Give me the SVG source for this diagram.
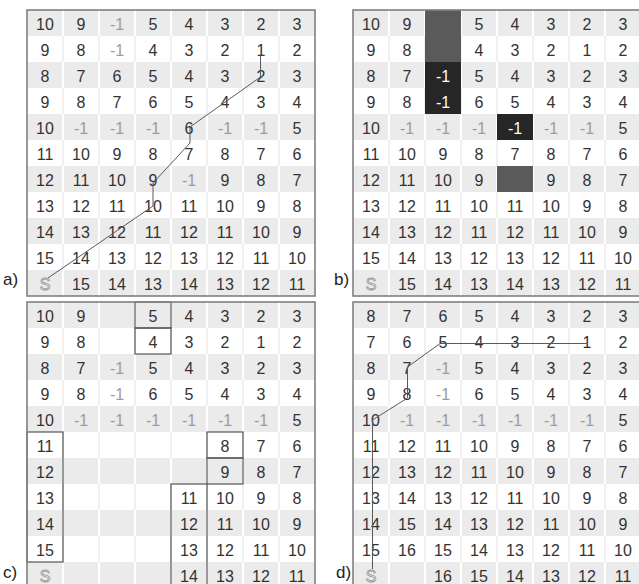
<svg xmlns="http://www.w3.org/2000/svg" xmlns:xlink="http://www.w3.org/1999/xlink" width="639" height="584" viewBox="0 0 639 584">
<style>
text{font-family:"Liberation Sans",Arial,sans-serif;font-size:16px;text-anchor:middle;fill:#333}
.m{fill:#9c9c9c}
.w{fill:#fff}
.s{fill:#fff;stroke:#9c9c9c;stroke-width:0.9}
.lbl{font-size:17px;text-anchor:start;fill:#222}
.box{fill:none;stroke:#555;stroke-width:1.2}
.path{fill:none;stroke:#5a5a5a;stroke-width:1}
.dk{fill:#5a5a5a}
.bk{fill:#262626}
</style>
<defs>
<g id="grid">
<rect x="0" y="0" width="288" height="286" fill="#fff"/>
<g fill="#ebebeb">
<rect x="0" y="0" width="288" height="26"/>
<rect x="0" y="52" width="288" height="26"/>
<rect x="0" y="104" width="288" height="26"/>
<rect x="0" y="156" width="288" height="26"/>
<rect x="0" y="208" width="288" height="26"/>
<rect x="0" y="260" width="288" height="26"/>
</g>
<path d="M36 0V286M72 0V286M108 0V286M144 0V286M180 0V286M216 0V286M252 0V286" stroke="#fff" stroke-width="2" stroke-dasharray="26 26"/>
<path d="M36 0V286M72 0V286M108 0V286M144 0V286M180 0V286M216 0V286M252 0V286" stroke="#e2e2e2" stroke-width="1" stroke-dasharray="26 26" stroke-dashoffset="26"/>
</g>
<rect id="frame" x="0" y="0" width="288" height="286" fill="none" stroke="#808080" stroke-width="1.6"/>
</defs>

<g id="panel-a" transform="translate(27,10)">
<use xlink:href="#grid"/>
<text x="18" y="20">10</text><text x="54" y="20">9</text><text x="90" y="20" class="m">-1</text><text x="126" y="20">5</text><text x="162" y="20">4</text><text x="198" y="20">3</text><text x="234" y="20">2</text><text x="270" y="20">3</text>
<text x="18" y="46">9</text><text x="54" y="46">8</text><text x="90" y="46" class="m">-1</text><text x="126" y="46">4</text><text x="162" y="46">3</text><text x="198" y="46">2</text><text x="234" y="46">1</text><text x="270" y="46">2</text>
<text x="18" y="72">8</text><text x="54" y="72">7</text><text x="90" y="72">6</text><text x="126" y="72">5</text><text x="162" y="72">4</text><text x="198" y="72">3</text><text x="234" y="72">2</text><text x="270" y="72">3</text>
<text x="18" y="98">9</text><text x="54" y="98">8</text><text x="90" y="98">7</text><text x="126" y="98">6</text><text x="162" y="98">5</text><text x="198" y="98">4</text><text x="234" y="98">3</text><text x="270" y="98">4</text>
<text x="18" y="124">10</text><text x="54" y="124" class="m">-1</text><text x="90" y="124" class="m">-1</text><text x="126" y="124" class="m">-1</text><text x="162" y="124">6</text><text x="198" y="124" class="m">-1</text><text x="234" y="124" class="m">-1</text><text x="270" y="124">5</text>
<text x="18" y="150">11</text><text x="54" y="150">10</text><text x="90" y="150">9</text><text x="126" y="150">8</text><text x="162" y="150">7</text><text x="198" y="150">8</text><text x="234" y="150">7</text><text x="270" y="150">6</text>
<text x="18" y="176">12</text><text x="54" y="176">11</text><text x="90" y="176">10</text><text x="126" y="176">9</text><text x="162" y="176" class="m">-1</text><text x="198" y="176">9</text><text x="234" y="176">8</text><text x="270" y="176">7</text>
<text x="18" y="202">13</text><text x="54" y="202">12</text><text x="90" y="202">11</text><text x="126" y="202">10</text><text x="162" y="202">11</text><text x="198" y="202">10</text><text x="234" y="202">9</text><text x="270" y="202">8</text>
<text x="18" y="228">14</text><text x="54" y="228">13</text><text x="90" y="228">12</text><text x="126" y="228">11</text><text x="162" y="228">12</text><text x="198" y="228">11</text><text x="234" y="228">10</text><text x="270" y="228">9</text>
<text x="18" y="254">15</text><text x="54" y="254">14</text><text x="90" y="254">13</text><text x="126" y="254">12</text><text x="162" y="254">13</text><text x="198" y="254">12</text><text x="234" y="254">11</text><text x="270" y="254">10</text>
<text x="18" y="280" class="s">S</text><text x="54" y="280">15</text><text x="90" y="280">14</text><text x="126" y="280">13</text><text x="162" y="280">14</text><text x="198" y="280">13</text><text x="234" y="280">12</text><text x="270" y="280">11</text>
<use xlink:href="#frame"/>
</g>

<g id="panel-b" transform="translate(353,10)">
<use xlink:href="#grid"/>
<rect x="72" y="0" width="36" height="52" class="dk"/>
<rect x="72" y="52" width="36" height="52" class="bk"/>
<rect x="144" y="104" width="36" height="26" class="bk"/>
<rect x="144" y="156" width="36" height="26" class="dk"/>
<text x="18" y="20">10</text><text x="54" y="20">9</text><text x="126" y="20">5</text><text x="162" y="20">4</text><text x="198" y="20">3</text><text x="234" y="20">2</text><text x="270" y="20">3</text>
<text x="18" y="46">9</text><text x="54" y="46">8</text><text x="126" y="46">4</text><text x="162" y="46">3</text><text x="198" y="46">2</text><text x="234" y="46">1</text><text x="270" y="46">2</text>
<text x="18" y="72">8</text><text x="54" y="72">7</text><text x="90" y="72" class="w">-1</text><text x="126" y="72">5</text><text x="162" y="72">4</text><text x="198" y="72">3</text><text x="234" y="72">2</text><text x="270" y="72">3</text>
<text x="18" y="98">9</text><text x="54" y="98">8</text><text x="90" y="98" class="w">-1</text><text x="126" y="98">6</text><text x="162" y="98">5</text><text x="198" y="98">4</text><text x="234" y="98">3</text><text x="270" y="98">4</text>
<text x="18" y="124">10</text><text x="54" y="124" class="m">-1</text><text x="90" y="124" class="m">-1</text><text x="126" y="124" class="m">-1</text><text x="162" y="124" class="w">-1</text><text x="198" y="124" class="m">-1</text><text x="234" y="124" class="m">-1</text><text x="270" y="124">5</text>
<text x="18" y="150">11</text><text x="54" y="150">10</text><text x="90" y="150">9</text><text x="126" y="150">8</text><text x="162" y="150">7</text><text x="198" y="150">8</text><text x="234" y="150">7</text><text x="270" y="150">6</text>
<text x="18" y="176">12</text><text x="54" y="176">11</text><text x="90" y="176">10</text><text x="126" y="176">9</text><text x="198" y="176">9</text><text x="234" y="176">8</text><text x="270" y="176">7</text>
<text x="18" y="202">13</text><text x="54" y="202">12</text><text x="90" y="202">11</text><text x="126" y="202">10</text><text x="162" y="202">11</text><text x="198" y="202">10</text><text x="234" y="202">9</text><text x="270" y="202">8</text>
<text x="18" y="228">14</text><text x="54" y="228">13</text><text x="90" y="228">12</text><text x="126" y="228">11</text><text x="162" y="228">12</text><text x="198" y="228">11</text><text x="234" y="228">10</text><text x="270" y="228">9</text>
<text x="18" y="254">15</text><text x="54" y="254">14</text><text x="90" y="254">13</text><text x="126" y="254">12</text><text x="162" y="254">13</text><text x="198" y="254">12</text><text x="234" y="254">11</text><text x="270" y="254">10</text>
<text x="18" y="280" class="s">S</text><text x="54" y="280">15</text><text x="90" y="280">14</text><text x="126" y="280">13</text><text x="162" y="280">14</text><text x="198" y="280">13</text><text x="234" y="280">12</text><text x="270" y="280">11</text>
<use xlink:href="#frame"/>
</g>

<g id="panel-c" transform="translate(27,302)">
<use xlink:href="#grid"/>
<text x="18" y="20">10</text><text x="54" y="20">9</text><text x="126" y="20">5</text><text x="162" y="20">4</text><text x="198" y="20">3</text><text x="234" y="20">2</text><text x="270" y="20">3</text>
<text x="18" y="46">9</text><text x="54" y="46">8</text><text x="126" y="46">4</text><text x="162" y="46">3</text><text x="198" y="46">2</text><text x="234" y="46">1</text><text x="270" y="46">2</text>
<text x="18" y="72">8</text><text x="54" y="72">7</text><text x="90" y="72" class="m">-1</text><text x="126" y="72">5</text><text x="162" y="72">4</text><text x="198" y="72">3</text><text x="234" y="72">2</text><text x="270" y="72">3</text>
<text x="18" y="98">9</text><text x="54" y="98">8</text><text x="90" y="98" class="m">-1</text><text x="126" y="98">6</text><text x="162" y="98">5</text><text x="198" y="98">4</text><text x="234" y="98">3</text><text x="270" y="98">4</text>
<text x="18" y="124">10</text><text x="54" y="124" class="m">-1</text><text x="90" y="124" class="m">-1</text><text x="126" y="124" class="m">-1</text><text x="162" y="124" class="m">-1</text><text x="198" y="124" class="m">-1</text><text x="234" y="124" class="m">-1</text><text x="270" y="124">5</text>
<text x="18" y="150">11</text><text x="198" y="150">8</text><text x="234" y="150">7</text><text x="270" y="150">6</text>
<text x="18" y="176">12</text><text x="198" y="176">9</text><text x="234" y="176">8</text><text x="270" y="176">7</text>
<text x="18" y="202">13</text><text x="162" y="202">11</text><text x="198" y="202">10</text><text x="234" y="202">9</text><text x="270" y="202">8</text>
<text x="18" y="228">14</text><text x="162" y="228">12</text><text x="198" y="228">11</text><text x="234" y="228">10</text><text x="270" y="228">9</text>
<text x="18" y="254">15</text><text x="162" y="254">13</text><text x="198" y="254">12</text><text x="234" y="254">11</text><text x="270" y="254">10</text>
<text x="18" y="280" class="s">S</text><text x="162" y="280">14</text><text x="198" y="280">13</text><text x="234" y="280">12</text><text x="270" y="280">11</text>
<g id="c-boxes">
<rect x="108" y="0" width="36" height="26" class="box"/>
<rect x="108" y="26" width="36" height="26" class="box"/>
<rect x="0" y="130" width="36" height="130" class="box"/>
<rect x="180" y="130" width="36" height="26" class="box"/>
<rect x="180" y="156" width="36" height="26" class="box"/>
<rect x="144" y="182" width="36" height="110" class="box"/>
</g>
<use xlink:href="#frame"/>
</g>

<g id="panel-d" transform="translate(353,302)">
<use xlink:href="#grid"/>
<text x="18" y="20">8</text><text x="54" y="20">7</text><text x="90" y="20">6</text><text x="126" y="20">5</text><text x="162" y="20">4</text><text x="198" y="20">3</text><text x="234" y="20">2</text><text x="270" y="20">3</text>
<text x="18" y="46">7</text><text x="54" y="46">6</text><text x="90" y="46">5</text><text x="126" y="46">4</text><text x="162" y="46">3</text><text x="198" y="46">2</text><text x="234" y="46">1</text><text x="270" y="46">2</text>
<text x="18" y="72">8</text><text x="54" y="72">7</text><text x="90" y="72" class="m">-1</text><text x="126" y="72">5</text><text x="162" y="72">4</text><text x="198" y="72">3</text><text x="234" y="72">2</text><text x="270" y="72">3</text>
<text x="18" y="98">9</text><text x="54" y="98">8</text><text x="90" y="98" class="m">-1</text><text x="126" y="98">6</text><text x="162" y="98">5</text><text x="198" y="98">4</text><text x="234" y="98">3</text><text x="270" y="98">4</text>
<text x="18" y="124">10</text><text x="54" y="124" class="m">-1</text><text x="90" y="124" class="m">-1</text><text x="126" y="124" class="m">-1</text><text x="162" y="124" class="m">-1</text><text x="198" y="124" class="m">-1</text><text x="234" y="124" class="m">-1</text><text x="270" y="124">5</text>
<text x="18" y="150">11</text><text x="54" y="150">12</text><text x="90" y="150">11</text><text x="126" y="150">10</text><text x="162" y="150">9</text><text x="198" y="150">8</text><text x="234" y="150">7</text><text x="270" y="150">6</text>
<text x="18" y="176">12</text><text x="54" y="176">13</text><text x="90" y="176">12</text><text x="126" y="176">11</text><text x="162" y="176">10</text><text x="198" y="176">9</text><text x="234" y="176">8</text><text x="270" y="176">7</text>
<text x="18" y="202">13</text><text x="54" y="202">14</text><text x="90" y="202">13</text><text x="126" y="202">12</text><text x="162" y="202">11</text><text x="198" y="202">10</text><text x="234" y="202">9</text><text x="270" y="202">8</text>
<text x="18" y="228">14</text><text x="54" y="228">15</text><text x="90" y="228">14</text><text x="126" y="228">13</text><text x="162" y="228">12</text><text x="198" y="228">11</text><text x="234" y="228">10</text><text x="270" y="228">9</text>
<text x="18" y="254">15</text><text x="54" y="254">16</text><text x="90" y="254">15</text><text x="126" y="254">14</text><text x="162" y="254">13</text><text x="198" y="254">12</text><text x="234" y="254">11</text><text x="270" y="254">10</text>
<text x="18" y="280" class="s">S</text><text x="90" y="280">16</text><text x="126" y="280">15</text><text x="162" y="280">14</text><text x="198" y="280">13</text><text x="234" y="280">12</text><text x="270" y="280">11</text>
<use xlink:href="#frame"/>
</g>

<g id="connectors">
<polyline class="path" points="48,278 153,206 153,183 190,143 190,127 260.5,77 260.5,54"/>
<polyline class="path" points="372.5,569 372.5,420 407.5,398 407.5,367 440,343.5 588,343.5"/>
</g>

<g id="labels">
<text x="3" y="285" class="lbl">a)</text>
<text x="334" y="285" class="lbl">b)</text>
<text x="3" y="578" class="lbl">c)</text>
<text x="336" y="578" class="lbl">d)</text>
</g>
</svg>
